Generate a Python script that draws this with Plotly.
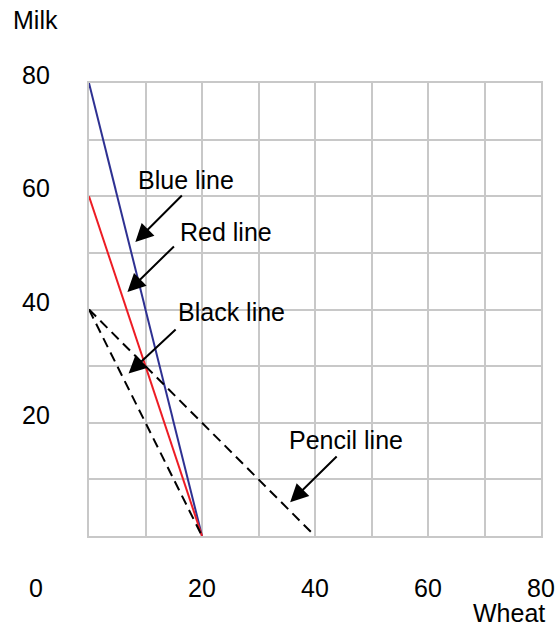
import plotly.graph_objects as go

# ---- data ----
line_names = ["Blue line", "Red line", "Black line", "Pencil line"]
line_x = [[0, 20], [0, 20], [0, 20], [0, 40]]
line_y = [[80, 0], [60, 0], [40, 0], [40, 0]]
line_colors = ["#2E3192", "#ED1C24", "#000000", "#000000"]
line_dash = ["solid", "solid", "10px,6px", "10px,6px"]

# annotation label positions (data units) and arrows (tail -> head)
label_x = [17.2, 24.3, 25.2, 45.5]
label_y = [62.8, 53.6, 39.5, 16.9]
arrow_tail_x = [16.7, 15.3, 15.6, 44.1]
arrow_tail_y = [60.4, 51.4, 36.7, 14.3]
arrow_head_x = [8.2, 6.8, 7.0, 35.6]
arrow_head_y = [51.9, 43.1, 28.7, 5.95]

x_ticks = [20, 40, 60, 80]
y_ticks = [20, 40, 60, 80]
origin_label = "0"
x_title = "Wheat"
y_title = "Milk"

FONT = "Liberation Sans, Arial, sans-serif"
FS = 25
GRID = "#c8c8c8"
TXT = dict(family=FONT, size=FS, color="black")

fig = go.Figure()
for name, xs, ys, c, d in zip(line_names, line_x, line_y, line_colors, line_dash):
    fig.add_trace(go.Scatter(x=xs, y=ys, mode="lines", name=name,
                             line=dict(color=c, width=2, dash=d),
                             showlegend=False, hoverinfo="skip"))

ann = []
for t, lx, ly in zip(line_names, label_x, label_y):
    ann.append(dict(x=lx, y=ly, xref="x", yref="y", text=t, showarrow=False,
                    xanchor="center", yanchor="middle", font=TXT))
for tx, ty, hx, hy in zip(arrow_tail_x, arrow_tail_y, arrow_head_x, arrow_head_y):
    ann.append(dict(x=hx, y=hy, ax=tx, ay=ty, xref="x", yref="y",
                    axref="x", ayref="y", text="", showarrow=True,
                    arrowhead=2, arrowsize=1.8, arrowwidth=2, arrowcolor="black"))

ylab_px = -0.118
xlab_py = -0.1155
for v in y_ticks:
    ann.append(dict(x=ylab_px, y=v, xref="paper", yref="y", yshift=8,
                    text=str(v), showarrow=False,
                    xanchor="center", yanchor="middle", font=TXT))
for v in x_ticks:
    ann.append(dict(x=v, y=xlab_py, xref="x", yref="paper",
                    text=str(v), showarrow=False,
                    xanchor="center", yanchor="middle", font=TXT))
ann.append(dict(x=ylab_px, y=xlab_py, xref="paper", yref="paper",
                text=origin_label, showarrow=False,
                xanchor="center", yanchor="middle", font=TXT))
ann.append(dict(x=1.014, y=-0.1707, xref="paper", yref="paper",
                text=x_title, showarrow=False,
                xanchor="right", yanchor="middle", font=TXT))
ann.append(dict(x=-0.118, y=1.139, xref="paper", yref="paper",
                text=y_title, showarrow=False,
                xanchor="center", yanchor="middle", font=TXT))

fig.update_layout(
    width=558, height=630,
    margin=dict(l=88.5, r=16.5, t=83, b=94.3, autoexpand=False),
    paper_bgcolor="white", plot_bgcolor="white",
    annotations=ann,
    xaxis=dict(range=[0, 80], dtick=10, showgrid=True, gridcolor=GRID, gridwidth=2,
               showticklabels=False, ticks="", zeroline=False,
               showline=True, mirror=True, linecolor=GRID, linewidth=2, fixedrange=True),
    yaxis=dict(range=[0, 80], dtick=10, showgrid=True, gridcolor=GRID, gridwidth=2,
               showticklabels=False, ticks="", zeroline=False,
               showline=True, mirror=True, linecolor=GRID, linewidth=2, fixedrange=True),
)

fig.write_html("out.html", config={"displayModeBar": False},
               post_script="document.body.style.margin='0';document.body.style.overflow='hidden';")
